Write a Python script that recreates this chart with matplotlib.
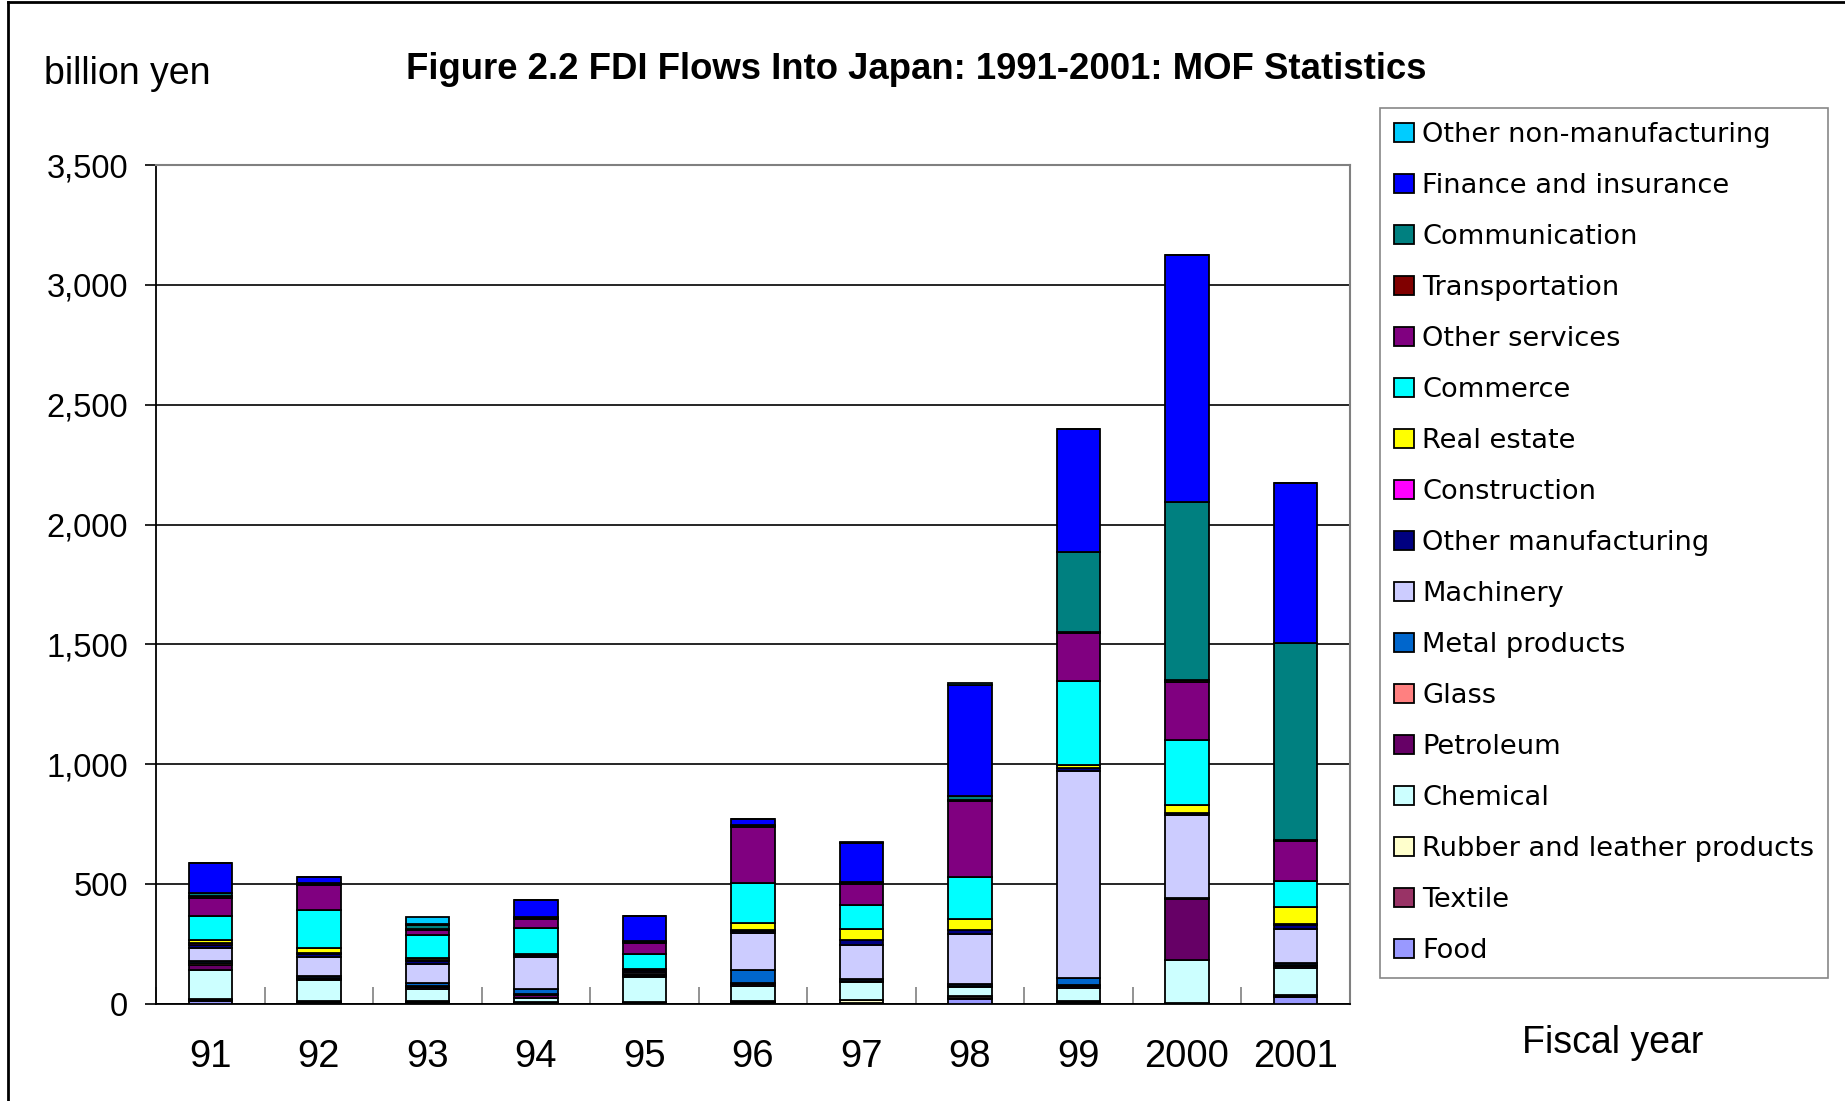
import numpy as np
import matplotlib
matplotlib.use("Agg")
from matplotlib import pyplot as plt
from matplotlib.lines import Line2D
from matplotlib.ticker import FuncFormatter

years = ["91", "92", "93", "94", "95", "96", "97", "98", "99", "2000", "2001"]

# billion yen (bottom of stack first)
food           = [12, 5, 5, 4, 3, 5, 3, 20, 5, 2, 30]
textile        = [6, 4, 4, 3, 3, 4, 2, 6, 4, 1, 4]
rubber         = [4, 3, 3, 3, 3, 3, 10, 8, 4, 1, 3]
chemical       = [118, 88, 52, 15, 105, 65, 75, 35, 52, 180, 115]
petroleum      = [24, 6, 8, 12, 3, 6, 4, 5, 10, 254, 8]
glass          = [5, 4, 3, 4, 2, 3, 2, 2, 3, 2, 3]
metal          = [10, 8, 12, 20, 5, 56, 10, 8, 30, 3, 10]
machinery      = [54, 77, 78, 134, 10, 153, 141, 209, 863, 346, 140]
other_mfg      = [14, 12, 15, 8, 6, 10, 18, 14, 12, 6, 18]
construction   = [6, 4, 3, 3, 3, 3, 3, 3, 2, 2, 3]
real_estate    = [15, 22, 9, 3, 3, 30, 46, 45, 14, 33, 70]
commerce       = [101, 158, 95, 106, 64, 165, 100, 174, 350, 273, 108]
other_services = [73, 104, 22, 38, 45, 235, 88, 318, 200, 239, 168]
transportation = [7, 4, 5, 4, 4, 3, 3, 5, 4, 8, 3]
communication  = [15, 7, 15, 8, 5, 5, 5, 16, 331, 746, 822]
finance        = [126, 24, 4, 70, 104, 27, 160, 462, 514, 1029, 670]
other_nonmfg   = [0, 0, 28, 0, 0, 0, 6, 10, 0, 0, 0]

series = [
    ("Food", food, "#9999FF"),
    ("Textile", textile, "#993366"),
    ("Rubber and leather products", rubber, "#FFFFCC"),
    ("Chemical", chemical, "#CCFFFF"),
    ("Petroleum", petroleum, "#660066"),
    ("Glass", glass, "#FF8080"),
    ("Metal products", metal, "#0066CC"),
    ("Machinery", machinery, "#CCCCFF"),
    ("Other manufacturing", other_mfg, "#000080"),
    ("Construction", construction, "#FF00FF"),
    ("Real estate", real_estate, "#FFFF00"),
    ("Commerce", commerce, "#00FFFF"),
    ("Other services", other_services, "#800080"),
    ("Transportation", transportation, "#800000"),
    ("Communication", communication, "#008080"),
    ("Finance and insurance", finance, "#0000FF"),
    ("Other non-manufacturing", other_nonmfg, "#00CCFF"),
]

sans = ["Liberation Sans", "DejaVu Sans"]

fig = plt.figure(figsize=(18.45, 11.01), dpi=100)
ax = fig.add_axes([0.0846, 0.0881, 0.647, 0.762])

x = np.arange(len(years))
bottom = np.zeros(len(years))
handles = []
for name, vals, col in series:
    vals = np.array(vals, dtype=float)
    b = ax.bar(x, vals, 0.4, bottom=bottom, color=col, edgecolor="black",
               linewidth=1.3, label=name, zorder=3)
    handles.append(b)
    bottom += vals

ax.set_xlim(-0.5, len(years) - 0.5)
ax.set_ylim(0, 3500)
ax.set_yticks(np.arange(0, 3501, 500))
ax.yaxis.set_major_formatter(FuncFormatter(lambda v, p: f"{int(v):,}"))
ax.grid(axis="y", color="black", linewidth=1.2, zorder=0)

ax.set_xticks(x)
ax.set_xticklabels(years)
ax.set_xticks(np.arange(-0.5, len(years)), minor=True)
ax.tick_params(axis="x", which="major", length=0, pad=25)
ax.tick_params(axis="x", which="minor", direction="in", length=12, width=1.2, color="gray")
ax.tick_params(axis="y", length=8, width=1.2, pad=12)
for lab in ax.get_xticklabels():
    lab.set_fontfamily(sans)
    lab.set_fontsize(27.5)
for lab in ax.get_yticklabels():
    lab.set_fontfamily(sans)
    lab.set_fontsize(23.5)

for s in ["left", "bottom"]:
    ax.spines[s].set_color("black")
    ax.spines[s].set_linewidth(1.3)
for s in ["top", "right"]:
    ax.spines[s].set_color("gray")
    ax.spines[s].set_linewidth(1.5)

fig.text(0.4965, 0.937, "Figure 2.2 FDI Flows Into Japan: 1991-2001: MOF Statistics",
         ha="center", va="center", fontsize=26.3, fontweight="bold", family=sans)
fig.text(0.024, 0.933, "billion yen", ha="left", va="center", fontsize=27, family=sans)
fig.text(0.874, 0.053, "Fiscal year", ha="center", va="center", fontsize=27, family=sans)

leg = ax.legend(handles[::-1], [s[0] for s in series][::-1], loc="upper left",
                bbox_to_anchor=(1380 / 1845, 1 - 108 / 1101), bbox_transform=fig.transFigure,
                borderaxespad=0, fontsize=19.6, frameon=True, fancybox=False,
                handlelength=0.75, handleheight=0.7, handletextpad=0.3,
                labelspacing=0.92, borderpad=0.5)
leg.get_frame().set_edgecolor("dimgray")
leg.get_frame().set_linewidth(1.2)

# outer frame: only top and left edges are visible in the original
fig.add_artist(Line2D([8 / 1845, 8 / 1845], [0, 1 - 2 / 1101], transform=fig.transFigure,
                      color="black", linewidth=2))
fig.add_artist(Line2D([8 / 1845, 1], [1 - 2 / 1101, 1 - 2 / 1101], transform=fig.transFigure,
                      color="black", linewidth=2))

fig.savefig("out.png", dpi=100)
